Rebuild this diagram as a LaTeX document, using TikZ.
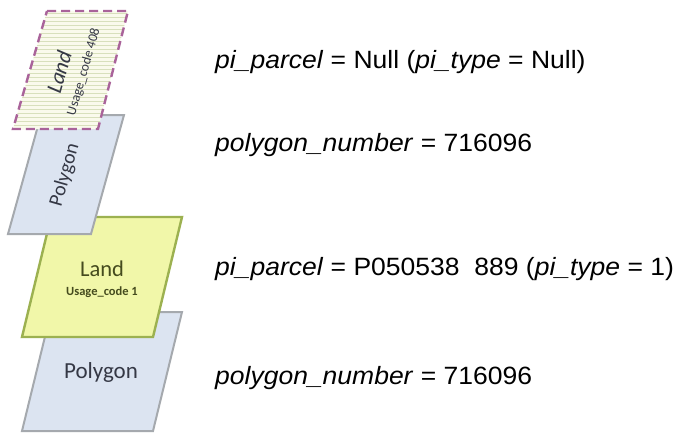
\documentclass[tikz,border=0pt]{standalone}
\usepackage{fontspec}
\setmainfont[FakeStretch=1.06]{Liberation Sans}
\newfontfamily\carlito{Carlito}
\definecolor{polyfill}{HTML}{DCE4F1}
\definecolor{polydraw}{HTML}{A5A9AE}
\definecolor{landfill}{HTML}{F1F7A9}
\definecolor{landdraw}{HTML}{9CB150}
\definecolor{topfill}{HTML}{FAFAEC}
\definecolor{stripecol}{HTML}{D8E0BC}
\definecolor{dashcol}{HTML}{A9639A}
\definecolor{polytext}{HTML}{353845}
\definecolor{landtext}{HTML}{454B1E}
\tikzset{
  polyshape/.style={fill=polyfill, draw=polydraw, line width=2pt, line join=miter},
  landshape/.style={fill=landfill, draw=landdraw, line width=2.4pt, line join=miter},
  dashshape/.style={draw=dashcol, line width=2.4pt, dash pattern=on 9pt off 5pt},
  stripe/.style={draw=stripecol, line width=0.8pt},
  polytxt/.style={text=polytext, inner sep=0pt, font=\carlito\fontsize{23}{27}\selectfont},
  landtxt/.style={text=landtext, inner sep=0pt, font=\carlito\fontsize{22.5}{26}\selectfont},
  usagetxt/.style={text=landtext, inner sep=0pt, font=\carlito\bfseries\fontsize{12.5}{15}\selectfont},
  rtxt/.style={anchor=base west, inner sep=0pt, font=\fontsize{25}{30}\selectfont}
}
\begin{document}
\begin{tikzpicture}[x=1pt,y=-1pt]
\useasboundingbox (0,0) rectangle (678,434);
\fill[white] (0,0) rectangle (678,434);
% bottom polygon
\draw[polyshape] (51,312) -- (182,312) -- (153,431) -- (22,431) -- cycle;
\node[polytxt] (p2) at (101,372) {Polygon};
% bottom land
\draw[landshape] (51,217) -- (182,217) -- (153,337) -- (22,337) -- cycle;
\node[landtxt] (l2) at (102,269) {Land};
\node[usagetxt] (u2) at (102,292) {Usage\_code 1};
% top polygon
\draw[polyshape] (41,115) -- (124,115) -- (91,234) -- (8,234) -- cycle;
\node[polytxt, font=\carlito\fontsize{20}{24}\selectfont, rotate=74] (p1) at (65,175) {Polygon};
% top land
\begin{scope}
\clip (47,11) -- (128,11) -- (98,129) -- (13,129) -- cycle;
\fill[topfill] (0,0) rectangle (140,140);
\foreach \yy in {13,17,...,129} \draw[stripe] (0,\yy) -- (140,\yy);
\end{scope}
\draw[dashshape] (47,11) -- (128,11) -- (98,129) -- (13,129) -- cycle;
\node[landtxt, text=polytext, font=\carlito\itshape\fontsize{22}{26}\selectfont, rotate=74] (l1) at (59,72) {Land};
\node[usagetxt, text=polytext, font=\carlito\fontsize{13.5}{16}\selectfont, rotate=74] (u1) at (84,72) {Usage\_code 408};
% right texts
\node[rtxt] (t1) at (215,68) {\textit{pi\_parcel} = Null (\textit{pi\_type} = Null)};
\node[rtxt] (t2) at (215,151) {\textit{polygon\_number} = 716096};
\node[rtxt] (t3) at (215,275) {\textit{pi\_parcel} = P050538\ \ 889 (\textit{pi\_type} = 1)};
\node[rtxt] (t4) at (215,384) {\textit{polygon\_number} = 716096};
\end{tikzpicture}
\end{document}
